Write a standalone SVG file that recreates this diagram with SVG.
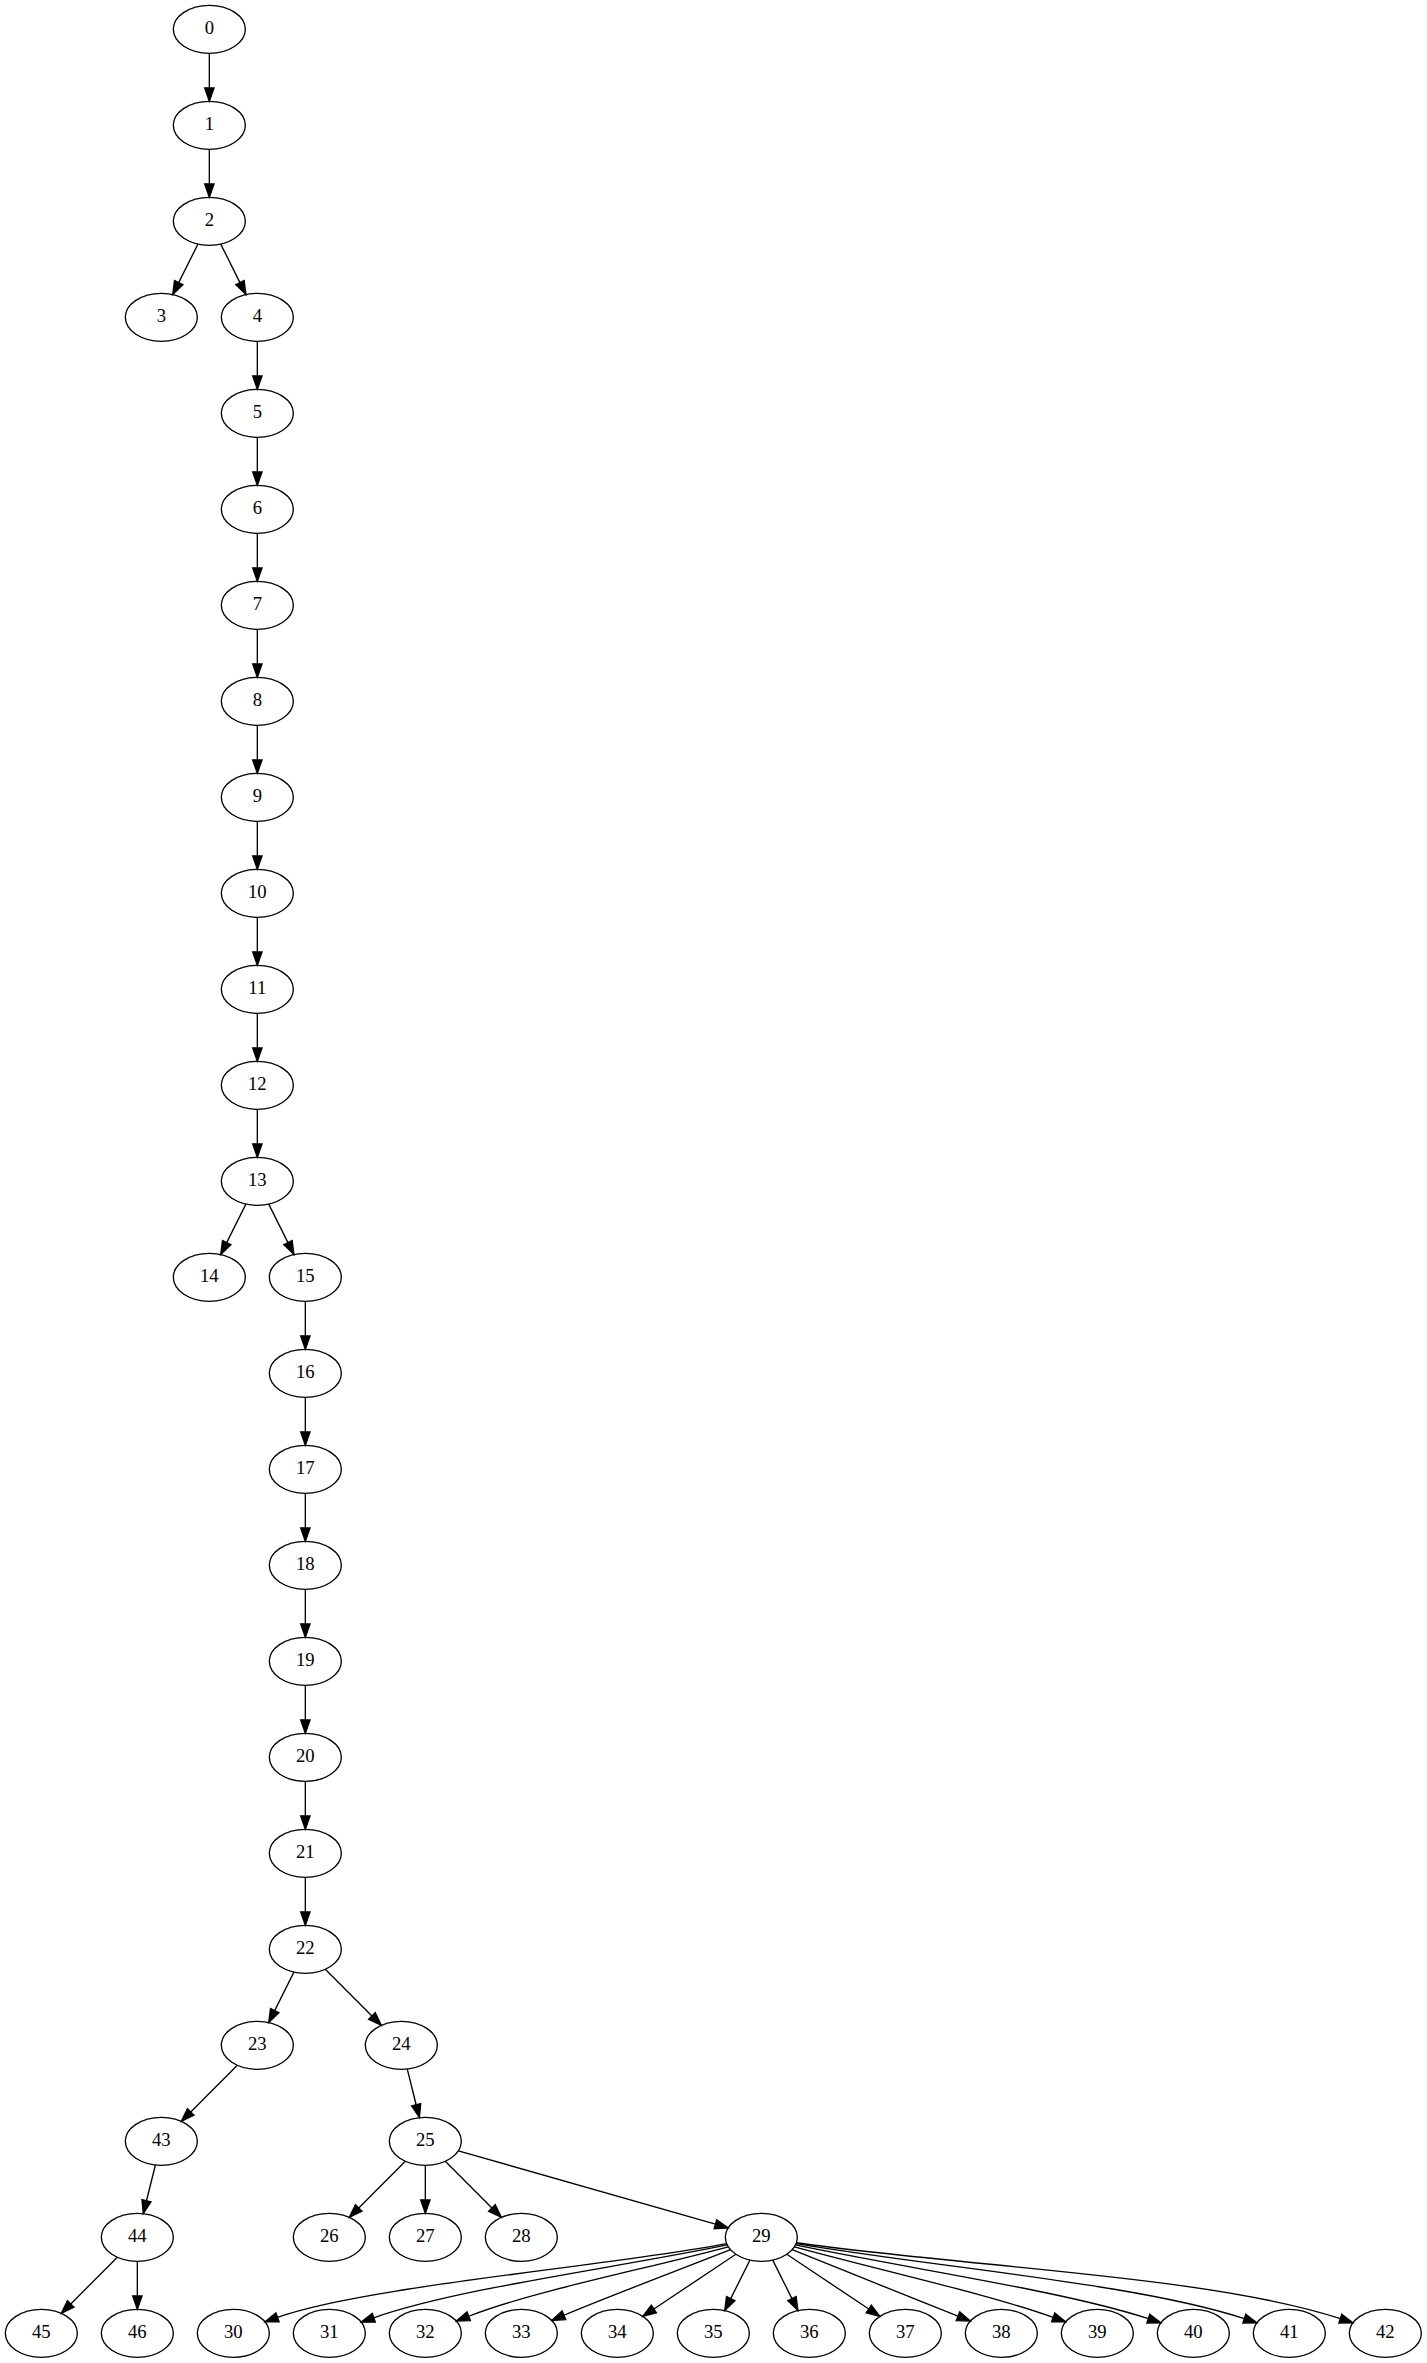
<svg xmlns="http://www.w3.org/2000/svg" width="1427" height="2363" viewBox="0 0 1427 2363">
<style>
.node ellipse{fill:none;stroke:#000;stroke-width:1.33}
.node text{font-family:"Liberation Serif","Times New Roman",serif;font-size:18.67px;text-anchor:middle;fill:#000}
#edges path{fill:none;stroke:#000;stroke-width:1.33;marker-end:url(#ah)}
</style>
<defs>
<marker id="ah" markerUnits="userSpaceOnUse" markerWidth="16" markerHeight="12" refX="0" refY="4.67" orient="auto" overflow="visible">
<path d="M0,0 L13.33,4.67 L0,9.33 Z" fill="#000" stroke="#000" stroke-width="1.33"/>
</marker>
</defs>
<rect width="1427" height="2363" fill="#fff"/>
<g id="edges">
<path d="M209.33,53.33 L209.33,88"/>
<path d="M209.33,149.33 L209.33,184"/>
<path d="M197.94,244.10 L178.68,282.64"/>
<path d="M220.72,244.10 L239.98,282.64"/>
<path d="M257.33,341.33 L257.33,376"/>
<path d="M257.33,437.33 L257.33,472"/>
<path d="M257.33,533.33 L257.33,568"/>
<path d="M257.33,629.33 L257.33,664"/>
<path d="M257.33,725.33 L257.33,760"/>
<path d="M257.33,821.33 L257.33,856"/>
<path d="M257.33,917.33 L257.33,952"/>
<path d="M257.33,1013.33 L257.33,1048"/>
<path d="M257.33,1109.33 L257.33,1144"/>
<path d="M245.94,1204.10 L226.68,1242.64"/>
<path d="M268.72,1204.10 L287.98,1242.64"/>
<path d="M305.33,1301.33 L305.33,1336"/>
<path d="M305.33,1397.33 L305.33,1432"/>
<path d="M305.33,1493.33 L305.33,1528"/>
<path d="M305.33,1589.33 L305.33,1624"/>
<path d="M305.33,1685.33 L305.33,1720"/>
<path d="M305.33,1781.33 L305.33,1816"/>
<path d="M305.33,1877.33 L305.33,1912"/>
<path d="M293.94,1972.10 L274.68,2010.64"/>
<path d="M325.30,1969.30 L371.93,2015.93"/>
<path d="M237.36,2065.30 L190.73,2111.93"/>
<path d="M407.25,2069.00 L416.18,2104.73"/>
<path d="M155.41,2165.00 L146.48,2200.73"/>
<path d="M405.36,2161.30 L358.73,2207.93"/>
<path d="M425.33,2165.33 L425.33,2200"/>
<path d="M445.30,2161.30 L491.93,2207.93"/>
<path d="M458.42,2150.79 L715.42,2224.22"/>
<path d="M117.36,2257.30 L70.73,2303.93"/>
<path d="M137.33,2261.33 L137.33,2296"/>
<path d="M726.59,2243.65 C610.00,2266.00 363.00,2286.40 277.50,2317.36"/>
<path d="M727.18,2244.92 C610.56,2268.96 458.95,2288.01 373.80,2317.78"/>
<path d="M728.24,2246.78 C642.60,2269.71 531.23,2291.65 468.73,2316.25"/>
<path d="M730.46,2249.68 C675.52,2271.32 605.09,2297.82 563.97,2315.25"/>
<path d="M735.87,2254.30 L653.88,2308.97"/>
<path d="M749.94,2260.10 L730.68,2298.64"/>
<path d="M772.72,2260.10 L791.98,2298.64"/>
<path d="M786.79,2254.30 L868.78,2308.97"/>
<path d="M792.20,2249.68 C846.90,2271.64 916.43,2299.83 957.95,2316.22"/>
<path d="M794.42,2246.78 C879.80,2270.07 990.13,2294.56 1053.16,2317.36"/>
<path d="M795.48,2244.92 C911.92,2269.25 1062.73,2290.72 1148.33,2318.65"/>
<path d="M796.07,2243.65 C944.00,2268.40 1136.41,2283.43 1244.33,2318.65"/>
<path d="M796.40,2242.73 C975.90,2267.78 1209.89,2276.09 1340.33,2318.65"/>
</g>
<g id="n0" class="node"><ellipse cx="209.33" cy="29.33" rx="36" ry="24"/><text x="209.33" y="34.33">0</text></g>
<g id="n1" class="node"><ellipse cx="209.33" cy="125.33" rx="36" ry="24"/><text x="209.33" y="130.33">1</text></g>
<g id="n2" class="node"><ellipse cx="209.33" cy="221.33" rx="36" ry="24"/><text x="209.33" y="226.33">2</text></g>
<g id="n3" class="node"><ellipse cx="161.33" cy="317.33" rx="36" ry="24"/><text x="161.33" y="322.33">3</text></g>
<g id="n4" class="node"><ellipse cx="257.33" cy="317.33" rx="36" ry="24"/><text x="257.33" y="322.33">4</text></g>
<g id="n5" class="node"><ellipse cx="257.33" cy="413.33" rx="36" ry="24"/><text x="257.33" y="418.33">5</text></g>
<g id="n6" class="node"><ellipse cx="257.33" cy="509.33" rx="36" ry="24"/><text x="257.33" y="514.33">6</text></g>
<g id="n7" class="node"><ellipse cx="257.33" cy="605.33" rx="36" ry="24"/><text x="257.33" y="610.33">7</text></g>
<g id="n8" class="node"><ellipse cx="257.33" cy="701.33" rx="36" ry="24"/><text x="257.33" y="706.33">8</text></g>
<g id="n9" class="node"><ellipse cx="257.33" cy="797.33" rx="36" ry="24"/><text x="257.33" y="802.33">9</text></g>
<g id="n10" class="node"><ellipse cx="257.33" cy="893.33" rx="36" ry="24"/><text x="257.33" y="898.33">10</text></g>
<g id="n11" class="node"><ellipse cx="257.33" cy="989.33" rx="36" ry="24"/><text x="257.33" y="994.33">11</text></g>
<g id="n12" class="node"><ellipse cx="257.33" cy="1085.33" rx="36" ry="24"/><text x="257.33" y="1090.33">12</text></g>
<g id="n13" class="node"><ellipse cx="257.33" cy="1181.33" rx="36" ry="24"/><text x="257.33" y="1186.33">13</text></g>
<g id="n14" class="node"><ellipse cx="209.33" cy="1277.33" rx="36" ry="24"/><text x="209.33" y="1282.33">14</text></g>
<g id="n15" class="node"><ellipse cx="305.33" cy="1277.33" rx="36" ry="24"/><text x="305.33" y="1282.33">15</text></g>
<g id="n16" class="node"><ellipse cx="305.33" cy="1373.33" rx="36" ry="24"/><text x="305.33" y="1378.33">16</text></g>
<g id="n17" class="node"><ellipse cx="305.33" cy="1469.33" rx="36" ry="24"/><text x="305.33" y="1474.33">17</text></g>
<g id="n18" class="node"><ellipse cx="305.33" cy="1565.33" rx="36" ry="24"/><text x="305.33" y="1570.33">18</text></g>
<g id="n19" class="node"><ellipse cx="305.33" cy="1661.33" rx="36" ry="24"/><text x="305.33" y="1666.33">19</text></g>
<g id="n20" class="node"><ellipse cx="305.33" cy="1757.33" rx="36" ry="24"/><text x="305.33" y="1762.33">20</text></g>
<g id="n21" class="node"><ellipse cx="305.33" cy="1853.33" rx="36" ry="24"/><text x="305.33" y="1858.33">21</text></g>
<g id="n22" class="node"><ellipse cx="305.33" cy="1949.33" rx="36" ry="24"/><text x="305.33" y="1954.33">22</text></g>
<g id="n23" class="node"><ellipse cx="257.33" cy="2045.33" rx="36" ry="24"/><text x="257.33" y="2050.33">23</text></g>
<g id="n24" class="node"><ellipse cx="401.33" cy="2045.33" rx="36" ry="24"/><text x="401.33" y="2050.33">24</text></g>
<g id="n43" class="node"><ellipse cx="161.33" cy="2141.33" rx="36" ry="24"/><text x="161.33" y="2146.33">43</text></g>
<g id="n25" class="node"><ellipse cx="425.33" cy="2141.33" rx="36" ry="24"/><text x="425.33" y="2146.33">25</text></g>
<g id="n44" class="node"><ellipse cx="137.33" cy="2237.33" rx="36" ry="24"/><text x="137.33" y="2242.33">44</text></g>
<g id="n26" class="node"><ellipse cx="329.33" cy="2237.33" rx="36" ry="24"/><text x="329.33" y="2242.33">26</text></g>
<g id="n27" class="node"><ellipse cx="425.33" cy="2237.33" rx="36" ry="24"/><text x="425.33" y="2242.33">27</text></g>
<g id="n28" class="node"><ellipse cx="521.33" cy="2237.33" rx="36" ry="24"/><text x="521.33" y="2242.33">28</text></g>
<g id="n29" class="node"><ellipse cx="761.33" cy="2237.33" rx="36" ry="24"/><text x="761.33" y="2242.33">29</text></g>
<g id="n45" class="node"><ellipse cx="41.33" cy="2333.33" rx="36" ry="24"/><text x="41.33" y="2338.33">45</text></g>
<g id="n46" class="node"><ellipse cx="137.33" cy="2333.33" rx="36" ry="24"/><text x="137.33" y="2338.33">46</text></g>
<g id="n30" class="node"><ellipse cx="233.33" cy="2333.33" rx="36" ry="24"/><text x="233.33" y="2338.33">30</text></g>
<g id="n31" class="node"><ellipse cx="329.33" cy="2333.33" rx="36" ry="24"/><text x="329.33" y="2338.33">31</text></g>
<g id="n32" class="node"><ellipse cx="425.33" cy="2333.33" rx="36" ry="24"/><text x="425.33" y="2338.33">32</text></g>
<g id="n33" class="node"><ellipse cx="521.33" cy="2333.33" rx="36" ry="24"/><text x="521.33" y="2338.33">33</text></g>
<g id="n34" class="node"><ellipse cx="617.33" cy="2333.33" rx="36" ry="24"/><text x="617.33" y="2338.33">34</text></g>
<g id="n35" class="node"><ellipse cx="713.33" cy="2333.33" rx="36" ry="24"/><text x="713.33" y="2338.33">35</text></g>
<g id="n36" class="node"><ellipse cx="809.33" cy="2333.33" rx="36" ry="24"/><text x="809.33" y="2338.33">36</text></g>
<g id="n37" class="node"><ellipse cx="905.33" cy="2333.33" rx="36" ry="24"/><text x="905.33" y="2338.33">37</text></g>
<g id="n38" class="node"><ellipse cx="1001.33" cy="2333.33" rx="36" ry="24"/><text x="1001.33" y="2338.33">38</text></g>
<g id="n39" class="node"><ellipse cx="1097.33" cy="2333.33" rx="36" ry="24"/><text x="1097.33" y="2338.33">39</text></g>
<g id="n40" class="node"><ellipse cx="1193.33" cy="2333.33" rx="36" ry="24"/><text x="1193.33" y="2338.33">40</text></g>
<g id="n41" class="node"><ellipse cx="1289.33" cy="2333.33" rx="36" ry="24"/><text x="1289.33" y="2338.33">41</text></g>
<g id="n42" class="node"><ellipse cx="1385.33" cy="2333.33" rx="36" ry="24"/><text x="1385.33" y="2338.33">42</text></g>
</svg>
